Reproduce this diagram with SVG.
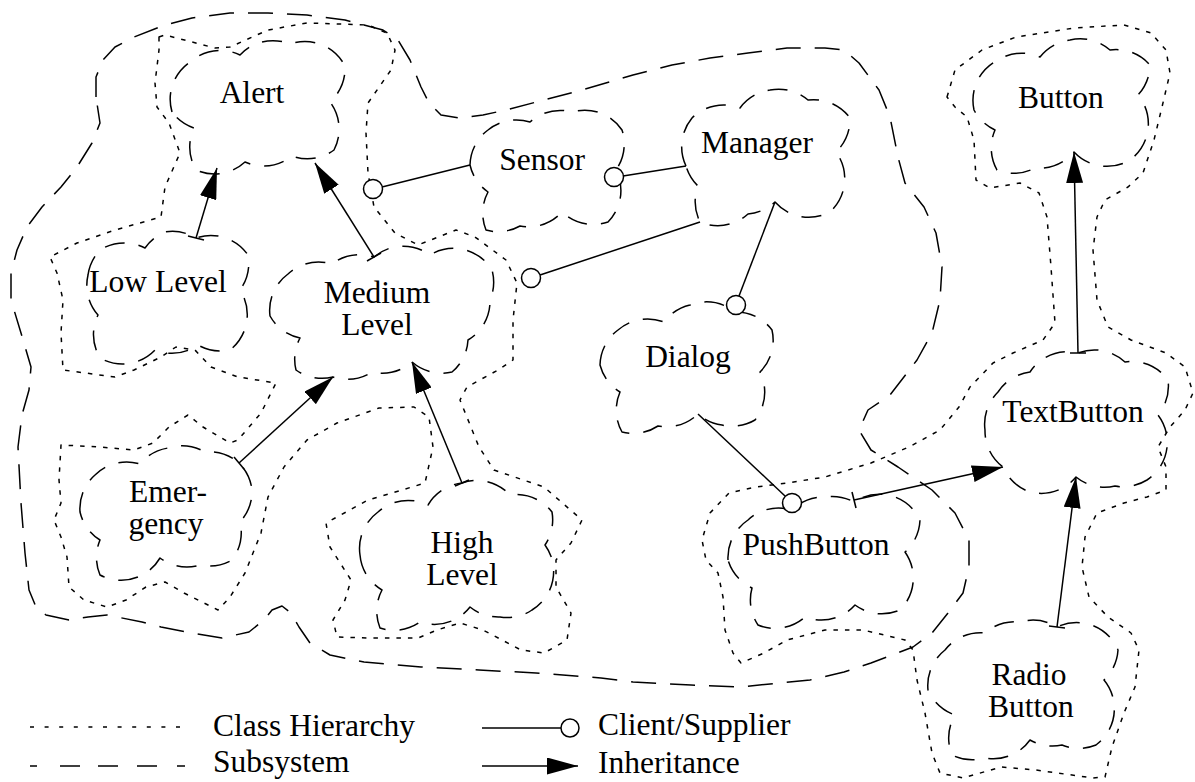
<svg xmlns="http://www.w3.org/2000/svg" width="1195" height="782" viewBox="0 0 1195 782">
<style>
.cls{fill:none;stroke:#000;stroke-width:1.5;stroke-dasharray:20 14;stroke-linejoin:round}
.hier{fill:none;stroke:#000;stroke-width:1.5;stroke-dasharray:4.5 7;stroke-linejoin:round}
.sub{fill:none;stroke:#000;stroke-width:1.5;stroke-dasharray:25 14;stroke-linejoin:round}
.ln{fill:none;stroke:#000;stroke-width:1.5}
.inh{fill:none;stroke:#000;stroke-width:1.5;marker-end:url(#ah)}
.cir{fill:#fff;stroke:#000;stroke-width:1.5}
text{font-family:"Liberation Serif","Times New Roman",serif;font-size:31.5px;fill:#000}
.c{text-anchor:middle}
</style>
<defs>
<marker id="ah" markerUnits="userSpaceOnUse" markerWidth="31" markerHeight="17" refX="31" refY="8.5" orient="auto"><path d="M0,0 L31,8.5 L0,17 Z" fill="#000"/></marker>
</defs>
<rect width="1195" height="782" fill="#fff"/>

<g id="subsystem">
<path class="sub" d="M96 97 L96 77 L103 60 L115 47 L134 37 L165 25 L192 18 L230 13 L268 13 L307 15 L345 20 L383 30 L398 40 L410 60 L421 87 L429 103 L441 115 L460 118 L483 115 L506 110 L544 100 L582 90 L633 75 L672 65 L710 58 L748 53 L787 48 L825 48 L844 50 L859 63 L879 90 L890 117 L898 157 L905 183 L924 207 L936 233 L942 267 L940 300 L932 333 L917 360 L890 395 L868 410 L859 430 L871 450 L898 467 L932 490 L955 513 L969 540 L969 567 L963 593 L948 613 L932 633 L913 647 L871 663 L844 672 L810 680 L779 683 L741 687 L691 685 L633 682 L601 678 L536 673 L479 670 L421 667 L364 662 L330 655 L310 643 L299 627 L291 613 L282 606 L272 610 L264 620 L249 632 L222 638 L192 633 L161 627 L142 622 L107 615 L88 617 L69 620 L46 615 L36 607 L29 590 L25 553 L21 503 L18 447 L22 415 L29 390 L31 367 L21 333 L11 300 L11 273 L17 250 L27 227 L42 207 L61 187 L77 167 L92 143 L100 123 Z"/>
</g>

<g id="hierarchy-alert">
<path class="hier" d="M159 37 L165 35 L215 48 L230 47 L268 30 L307 23 L368 25 L387 33 L395 50 L391 70 L368 103 L366 133 L368 173 L374 207 L395 233 L418 245 L456 230 L475 237 L506 260 L517 283 L513 320 L513 360 L498 370 L467 387 L460 400 L479 447 L494 470 L544 487 L582 520 L571 543 L556 560 L556 587 L571 613 L567 640 L544 653 L521 650 L483 630 L460 623 L437 630 L418 638 L368 638 L337 637 L333 620 L345 600 L351 580 L330 547 L326 523 L368 500 L402 490 L425 483 L433 447 L429 417 L414 407 L379 408 L337 423 L307 440 L284 467 L268 497 L261 533 L245 573 L230 597 L218 610 L184 593 L165 582 L146 587 L126 600 L107 607 L84 600 L69 587 L67 557 L61 537 L54 520 L61 503 L59 480 L61 445 L100 447 L134 450 L153 443 L169 427 L188 415 L203 427 L230 443 L238 440 L261 413 L276 383 L238 377 L211 367 L195 350 L176 347 L161 357 L134 370 L115 377 L63 370 L61 333 L63 300 L57 273 L50 257 L77 243 L115 230 L161 217 L165 187 L180 153 L169 123 L157 107 L155 83 L159 50 Z"/>
</g>

<g id="hierarchy-button">
<path class="hier" d="M947 97 L955 70 L982 50 L1016 37 L1074 28 L1124 25 L1151 33 L1166 50 L1170 73 L1162 107 L1154 140 L1143 173 L1128 187 L1105 200 L1097 217 L1093 250 L1097 300 L1108 327 L1131 340 L1166 353 L1185 367 L1193 393 L1185 410 L1170 427 L1158 447 L1166 467 L1166 490 L1147 497 L1124 503 L1097 513 L1085 537 L1082 567 L1089 597 L1108 617 L1131 633 L1139 650 L1135 687 L1124 713 L1112 747 L1105 777 L1093 778 L1036 770 L1001 767 L963 778 L940 773 L932 753 L925 713 L917 680 L913 650 L905 640 L863 630 L825 630 L787 640 L764 653 L741 663 L733 653 L725 630 L723 597 L718 573 L706 560 L702 540 L710 513 L729 493 L756 487 L787 483 L825 477 L871 463 L909 447 L940 430 L959 407 L970 387 L993 363 L1013 353 L1043 340 L1055 323 L1051 267 L1047 217 L1039 193 L1020 183 L990 188 L976 180 L974 140 L967 117 L955 107 Z"/>
</g>

<g id="node-alert">
<path class="cls" d="M172 112 A45 45 0 0 1 190 62 A45 45 0 0 1 240 55 A45 45 0 0 1 290 44 A45 45 0 0 1 345 66 A45 45 0 0 1 330 102 A45 45 0 0 1 334 150 A45 45 0 0 1 292 156 A45 45 0 0 1 245 162 A45 45 0 0 1 196 170 A45 45 0 0 1 194 128 A45 45 0 0 1 172 112 Z"/>
<text class="c" x="252" y="103">Alert</text>
</g>
<g id="node-sensor">
<path class="cls" d="M470 165 A45 45 0 0 1 488 130 A45 45 0 0 1 530 122 A45 45 0 0 1 572 112 A45 45 0 0 1 622 130 A45 45 0 0 1 616 170 A45 45 0 0 1 608 222 A45 45 0 0 1 562 212 A45 45 0 0 1 520 226 A45 45 0 0 1 486 230 A45 45 0 0 1 488 192 A45 45 0 0 1 470 165 Z"/>
<text class="c" x="542" y="170">Sensor</text>
</g>
<g id="node-manager">
<path class="cls" d="M686 166 A45 45 0 0 1 692 118 A45 45 0 0 1 740 108 A45 45 0 0 1 770 90 A45 45 0 0 1 808 100 A45 45 0 0 1 850 118 A45 45 0 0 1 836 152 A45 45 0 0 1 830 212 A45 45 0 0 1 775 202 A45 45 0 0 1 748 214 A45 45 0 0 1 700 222 A45 45 0 0 1 698 186 A45 45 0 0 1 686 166 Z"/>
<text class="c" x="757" y="153">Manager</text>
</g>
<g id="node-button">
<path class="cls" d="M974 110 A45 45 0 0 1 998 60 A45 45 0 0 1 1040 57 A45 45 0 0 1 1070 40 A45 45 0 0 1 1110 50 A45 45 0 0 1 1150 65 A45 45 0 0 1 1138 95 A45 45 0 0 1 1130 160 A45 45 0 0 1 1074 152 A45 45 0 0 1 1035 168 A45 45 0 0 1 997 170 A45 45 0 0 1 995 130 A45 45 0 0 1 974 110 Z"/>
<text class="c" x="1061" y="108">Button</text>
</g>
<g id="node-lowlevel">
<path class="cls" d="M88 275 A45 45 0 0 1 100 250 A45 45 0 0 1 145 248 A45 45 0 0 1 165 232 A45 45 0 0 1 196 238 A45 45 0 0 1 248 255 A45 45 0 0 1 240 290 A45 45 0 0 1 230 350 A45 45 0 0 1 198 345 A45 45 0 0 1 155 350 A45 45 0 0 1 100 358 A45 45 0 0 1 98 315 A45 45 0 0 1 88 275 Z"/>
<text class="c" x="158" y="292">Low Level</text>
</g>
<g id="node-mediumlevel">
<path class="cls" d="M270 316 A45 45 0 0 1 288 274 A45 45 0 0 1 332 264 A45 45 0 0 1 374 257 A45 45 0 0 1 430 255 A45 45 0 0 1 492 270 A45 45 0 0 1 490 300 A45 45 0 0 1 468 340 A45 45 0 0 1 452 372 A45 45 0 0 1 412 362 A45 45 0 0 1 372 372 A45 45 0 0 1 333 377 A45 45 0 0 1 296 370 A45 45 0 0 1 300 338 A45 45 0 0 1 270 316 Z"/>
<text class="c" x="377" y="303">Medium</text>
<text class="c" x="377" y="335">Level</text>
</g>
<g id="node-dialog">
<path class="cls" d="M600 365 A45 45 0 0 1 618 330 A45 45 0 0 1 664 322 A45 45 0 0 1 690 305 A45 45 0 0 1 735 312 A45 45 0 0 1 772 330 A45 45 0 0 1 760 372 A45 45 0 0 1 755 420 A45 45 0 0 1 722 425 A45 45 0 0 1 698 414 A45 45 0 0 1 658 426 A45 45 0 0 1 622 432 A45 45 0 0 1 620 392 A45 45 0 0 1 600 365 Z"/>
<text class="c" x="688" y="367">Dialog</text>
</g>
<g id="node-textbutton">
<path class="cls" d="M985 430 A45 45 0 0 1 998 392 A45 45 0 0 1 1030 372 A45 45 0 0 1 1078 353 A45 45 0 0 1 1125 362 A45 45 0 0 1 1168 380 A45 45 0 0 1 1158 415 A45 45 0 0 1 1147 480 A45 45 0 0 1 1115 486 A45 45 0 0 1 1076 477 A45 45 0 0 1 1030 492 A45 45 0 0 1 1003 467 A45 45 0 0 1 985 430 Z"/>
<text class="c" x="1073" y="422">TextButton</text>
</g>
<g id="node-emergency">
<path class="cls" d="M80 512 A45 45 0 0 1 95 475 A45 45 0 0 1 140 464 A45 45 0 0 1 168 448 A45 45 0 0 1 205 452 A45 45 0 0 1 239 463 A45 45 0 0 1 252 490 A45 45 0 0 1 240 522 A45 45 0 0 1 232 560 A45 45 0 0 1 200 565 A45 45 0 0 1 160 558 A45 45 0 0 1 100 575 A45 45 0 0 1 100 540 A45 45 0 0 1 80 512 Z"/>
<text class="c" x="168" y="502">Emer-</text>
<text class="c" x="166" y="534">gency</text>
</g>
<g id="node-highlevel">
<path class="cls" d="M360 555 A45 45 0 0 1 378 512 A45 45 0 0 1 428 505 A45 45 0 0 1 462 483 A45 45 0 0 1 510 495 A45 45 0 0 1 552 512 A45 45 0 0 1 545 545 A45 45 0 0 1 532 610 A45 45 0 0 1 500 617 A45 45 0 0 1 470 607 A45 45 0 0 1 420 622 A45 45 0 0 1 380 628 A45 45 0 0 1 382 590 A45 45 0 0 1 360 555 Z"/>
<text class="c" x="462" y="553">High</text>
<text class="c" x="462" y="585">Level</text>
</g>
<g id="node-pushbutton">
<path class="cls" d="M728 560 A45 45 0 0 1 748 520 A45 45 0 0 1 792 510 A45 45 0 0 1 825 497 A45 45 0 0 1 854 502 A45 45 0 0 1 920 520 A45 45 0 0 1 905 552 A45 45 0 0 1 900 610 A45 45 0 0 1 855 605 A45 45 0 0 1 805 617 A45 45 0 0 1 758 625 A45 45 0 0 1 752 588 A45 45 0 0 1 728 560 Z"/>
<text class="c" x="816" y="555">PushButton</text>
</g>
<g id="node-radiobutton">
<path class="cls" d="M928 690 A45 45 0 0 1 945 650 A45 45 0 0 1 985 633 A45 45 0 0 1 1020 622 A45 45 0 0 1 1057 627 A45 45 0 0 1 1118 650 A45 45 0 0 1 1104 680 A45 45 0 0 1 1096 745 A45 45 0 0 1 1062 745 A45 45 0 0 1 1030 740 A45 45 0 0 1 985 758 A45 45 0 0 1 952 755 A45 45 0 0 1 955 715 A45 45 0 0 1 928 690 Z"/>
<text class="c" x="1029" y="685">Radio</text>
<text class="c" x="1031" y="717">Button</text>
</g>

<g id="connectors">
<line class="ln" x1="382" y1="187" x2="470" y2="165"/>
<circle class="cir" cx="373" cy="189" r="9.5"/>
<line class="ln" x1="623" y1="176" x2="686" y2="166"/>
<circle class="cir" cx="614" cy="177" r="9.5"/>
<line class="ln" x1="540" y1="275" x2="700" y2="222"/>
<circle class="cir" cx="531" cy="278" r="9.5"/>
<line class="ln" x1="739" y1="296" x2="775" y2="202"/>
<circle class="cir" cx="736" cy="305" r="9.5"/>
<line class="ln" x1="785" y1="496" x2="698" y2="414"/>
<circle class="cir" cx="792" cy="503" r="9.5"/>
<line class="inh" x1="196" y1="238" x2="217" y2="168"/>
<line class="ln" x1="188" y1="236" x2="204" y2="240"/>
<line class="inh" x1="374" y1="257" x2="315" y2="163"/>
<line class="ln" x1="367" y1="261" x2="381" y2="253"/>
<line class="inh" x1="239" y1="463" x2="333" y2="377"/>
<line class="ln" x1="234" y1="457" x2="244" y2="469"/>
<line class="inh" x1="462" y1="483" x2="412" y2="362"/>
<line class="ln" x1="455" y1="486" x2="469" y2="480"/>
<line class="inh" x1="854" y1="500" x2="1003" y2="467"/>
<line class="ln" x1="852" y1="492" x2="856" y2="508"/>
<line class="inh" x1="1078" y1="353" x2="1074" y2="152"/>
<line class="ln" x1="1070" y1="353" x2="1086" y2="353"/>
<line class="inh" x1="1057" y1="627" x2="1076" y2="477"/>
<line class="ln" x1="1049" y1="626" x2="1065" y2="628"/>
</g>

<g id="legend">
<line x1="30" y1="727" x2="186" y2="727" stroke="#000" stroke-width="1.4" stroke-dasharray="4 10.6"/>
<path d="M30 766 H37 M60 766 H80 M98 766 H118 M137 766 H157 M177 766 H185" stroke="#000" stroke-width="1.5" fill="none"/>
<text x="213" y="736">Class Hierarchy</text>
<text x="213" y="772">Subsystem</text>
<line class="ln" x1="482" y1="728" x2="561" y2="728"/>
<circle class="cir" cx="570" cy="728" r="9"/>
<line class="inh" x1="482" y1="766" x2="578" y2="766"/>
<text x="598" y="735">Client/Supplier</text>
<text x="598" y="773">Inheritance</text>
</g>
</svg>
